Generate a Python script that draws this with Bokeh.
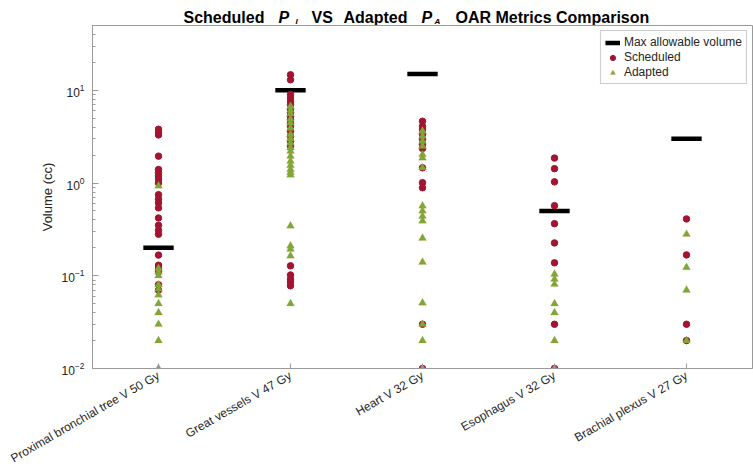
from bokeh.plotting import figure
from bokeh.layouts import column
from bokeh.models import (FactorRange, Range1d, Legend, LegendItem,
                          ColumnDataSource, LogTicker)
from bokeh.core.properties import value
from bokeh.transform import dodge
from bokeh.embed import file_html
from bokeh.resources import INLINE

categories = ["Proximal bronchial tree V 50 Gy", "Great vessels V 47 Gy",
              "Heart V 32 Gy", "Esophagus V 32 Gy", "Brachial plexus V 27 Gy"]
max_allowable = [0.2, 10, 15, 0.5, 3]

scheduled_bronchial = [3.8, 3.5, 3.3, 1.95, 1.4, 1.3, 1.2, 1.1, 1.0, 0.75, 0.67, 0.61,
                       0.54, 0.42, 0.35, 0.31, 0.28, 0.167, 0.13, 0.12, 0.11, 0.08, 0.07]
adapted_bronchial = [0.93, 0.12, 0.11, 0.1, 0.08, 0.072, 0.062, 0.05, 0.04, 0.03, 0.02, 0.01]

scheduled_vessels = [14.7, 13.0, 9.0, 8.27, 7.62, 7.02, 6.2, 5.7, 5.25, 4.84, 4.38, 4.1,
                     3.62, 3.2, 2.83, 2.5, 0.128, 0.102, 0.092, 0.085, 0.078]
adapted_vessels = [6.7, 6.1, 5.6, 4.9, 4.45, 3.9, 3.34, 3.0, 2.71, 2.4, 2.21, 1.95,
                   1.72, 1.55, 1.40, 1.30, 1.22, 0.345, 0.21, 0.194, 0.164, 0.05]

scheduled_heart = [4.64, 4.1, 3.78, 3.34, 2.96, 2.62, 2.36, 1.46, 1.01, 0.89, 0.03, 0.01]
adapted_heart = [3.62, 3.2, 2.83, 2.5, 2.03, 1.87, 1.46, 0.566, 0.5, 0.44, 0.39,
                 0.254, 0.14, 0.051, 0.03, 0.02, 0.01]

scheduled_esophagus = [1.86, 1.43, 1.03, 0.57, 0.365, 0.226, 0.138, 0.03, 0.01]
adapted_esophagus = [0.104, 0.092, 0.081, 0.05, 0.04, 0.02, 0.01]

scheduled_brachial = [0.41, 0.168, 0.03, 0.02]
adapted_brachial = [0.28, 0.123, 0.07, 0.02]

scheduled = [scheduled_bronchial, scheduled_vessels, scheduled_heart,
             scheduled_esophagus, scheduled_brachial]
adapted = [adapted_bronchial, adapted_vessels, adapted_heart,
           adapted_esophagus, adapted_brachial]


def flatten(groups):
    xs, ys = [], []
    for cat, vals in zip(categories, groups):
        xs += [cat] * len(vals)
        ys += vals
    return ColumnDataSource(dict(x=xs, y=ys))


FONT = "Liberation Sans"
GRAY = "#9a9a9a"
TXT = "#262626"
W, H = 753, 476
TH = 25                            # title strip height
FL, FR, FB = 92, 1, 108            # frame borders of the main plot

# ---------- title strip (its frame is aligned with the main frame by the column) ----------
t = figure(width=W, height=TH, x_range=Range1d(FL, W - FR), y_range=Range1d(TH, 0),
           x_axis_location=None, y_axis_location=None,
           output_backend="svg", toolbar_location=None,
           min_border=0, min_border_left=FL, min_border_right=FR,
           min_border_top=0, min_border_bottom=0)
t.grid.visible = False
t.outline_line_color = None
t.title.visible = False
t.border_fill_color = "white"
t.background_fill_color = "white"

# (text, page x, baseline y, size, style)
pieces = [("Scheduled", 183, 16.7, "16px", "bold"),
          ("P", 278, 16.7, "16px", "bold italic"),
          ("I", 295, 21, "8px", "bold italic"),
          ("VS", 311, 16.7, "16px", "bold"),
          ("Adapted", 343, 16.7, "16px", "bold"),
          ("P", 421, 16.7, "16px", "bold italic"),
          ("A", 434, 21, "8px", "bold italic"),
          ("OAR Metrics Comparison", 455, 16.7, "16px", "bold")]
for txt, x, yb, fs, st in pieces:
    t.text(x=[x], y=[yb], text=[txt], text_font=value(FONT), text_font_size=value(fs),
           text_font_style=st, text_color="black", text_baseline="alphabetic",
           text_align="left")

# ---------- main plot ----------
p = figure(width=W, height=H - TH,
           x_range=FactorRange(*categories, range_padding=0),
           y_range=Range1d(0.01, 50), y_axis_type="log",
           output_backend="svg", toolbar_location=None,
           min_border_left=FL, min_border_right=FR,
           min_border_top=0, min_border_bottom=FB)
p.title.visible = False
p.xgrid.visible = False
p.ygrid.visible = False
p.outline_line_color = GRAY
p.background_fill_color = "white"
p.border_fill_color = "white"

ya = p.yaxis[0]
ya.ticker = LogTicker(num_minor_ticks=10)
ya.axis_label = "Volume (cc)"
ya.axis_label_text_font = FONT
ya.axis_label_text_font_style = "normal"
ya.axis_label_text_font_size = "13px"
ya.axis_label_text_color = TXT
ya.axis_label_standoff = 4
ya.major_label_text_font = FONT
ya.major_label_text_font_size = "12px"
ya.major_label_text_color = TXT
ya.major_label_standoff = 8
ya.axis_line_color = GRAY
ya.major_tick_line_color = GRAY
ya.minor_tick_line_color = GRAY
ya.major_tick_in = 6
ya.major_tick_out = 0
ya.minor_tick_in = 3
ya.minor_tick_out = 0

xa = p.xaxis[0]
xa.major_label_orientation = 0.5236
xa.major_label_text_font = FONT
xa.major_label_text_font_size = "12px"
xa.major_label_text_color = TXT
xa.major_label_standoff = 6
xa.axis_line_color = GRAY
xa.major_tick_line_color = GRAY
xa.major_tick_in = 5
xa.major_tick_out = 0

bar_src = ColumnDataSource(dict(x=categories, y=max_allowable))
bars = p.segment(x0=dodge("x", -0.115, range=p.x_range), y0="y",
                 x1=dodge("x", 0.115, range=p.x_range), y1="y",
                 source=bar_src, line_color="black", line_width=4.5)

sched = p.scatter(x="x", y="y", source=flatten(scheduled), marker="circle", size=6.5,
                  fill_color="#A2142F", line_color="#A2142F")
adapt = p.scatter(x="x", y="y", source=flatten(adapted), marker="triangle", size=8,
                  fill_color="#77AC30", line_color="#E07A6A", line_width=0.4,
                  line_alpha=0.5)

legend = Legend(items=[LegendItem(label="Max allowable volume", renderers=[bars]),
                       LegendItem(label="Scheduled", renderers=[sched]),
                       LegendItem(label="Adapted", renderers=[adapt])],
                location="top_right", label_text_font=FONT, label_text_font_size="12px",
                label_text_color=TXT, glyph_width=15, glyph_height=13, label_height=13,
                label_standoff=4, spacing=1, padding=4, margin=5,
                border_line_color=GRAY, background_fill_alpha=1)
p.add_layout(legend)

layout = column(t, p, spacing=0)
open("out.html", "w").write(file_html(layout, INLINE))
